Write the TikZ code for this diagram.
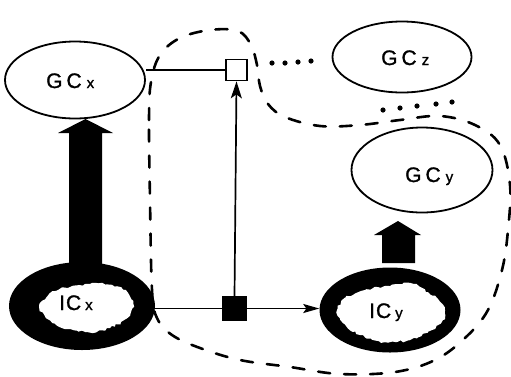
\documentclass[tikz,border=0pt]{standalone}
\usepackage{fontspec}
\newfontfamily\lab[FakeBold=1.2]{Liberation Sans}
\usetikzlibrary{shapes.geometric,arrows.meta,decorations.pathmorphing}
\tikzset{
  gc/.style={ellipse, draw, line width=1.8pt, inner sep=0pt},
  ic/.style={ellipse, fill=black, inner sep=0pt},
  lbl/.style={anchor=base west, inner sep=0pt, font=\lab\fontsize{21}{21}\selectfont},
  conn/.style={line width=1.7pt},
  box/.style={draw, line width=1.7pt, minimum width=21pt, minimum height=21pt, inner sep=0pt},
  dotc/.style={circle, fill=black, minimum size=5.2pt, inner sep=0pt},
  blob/.style={fill=white, decorate, decoration={random steps, segment length=3pt, amplitude=1.3pt}},
  bound/.style={dashed, dash pattern=on 12pt off 14pt, line width=2.6pt, line cap=round},
  fat/.style={fill=black},
  tip/.style={-{Stealth[length=17pt,width=11pt,inset=4pt]}},
}
\newcommand{\sub}[1]{{\fontsize{15}{15}\selectfont #1}}
\begin{document}
\begin{tikzpicture}[x=1pt,y=-1pt]
\useasboundingbox (0,0) rectangle (511,376);
\pgfmathsetseed{7}
% dashed boundary
\draw[bound] plot[smooth cycle, tension=0.6] coordinates {
 (150,200) (149,120) (151,82) (160,55) (180,38) (210,30) (238,31) (251,45) (257,65)
 (260,86) (268,104) (285,117) (320,126) (360,125) (400,120) (440,116) (475,125)
 (500,145) (510,185) (508,230) (502,270) (488,310) (465,338) (435,360) (395,372)
 (340,374) (290,367) (240,360) (200,348) (172,335) (157,318) (152,290)};
% ellipses
\node[gc, minimum width=140pt, minimum height=77pt] (GCx) at (75,80) {};
\node[gc, minimum width=139pt, minimum height=71pt] (GCz) at (402,57) {};
\node[gc, minimum width=141pt, minimum height=85pt] (GCy) at (422,170) {};
\node[ic, minimum width=146pt, minimum height=88pt] (ICx) at (82,306) {};
\node[ic, minimum width=141pt, minimum height=85pt] (ICy) at (390,310) {};
% inner blobs
\fill[blob] plot[smooth cycle] coordinates {(40,307) (50,293) (70,287) (90,284) (112,285) (128,293) (133,304) (127,318) (110,328) (88,332) (62,328) (46,318)};
\fill[blob] plot[smooth cycle] coordinates {(337,312) (345,298) (365,290) (390,286) (410,283) (428,292) (440,302) (445,315) (432,330) (410,340) (385,342) (360,335) (343,323)};
% labels
\node[lbl] (tGCx) at (46,88) {G\hspace{4pt}C\hspace{5pt}\sub{x}};
\node[lbl] (tGCz) at (381,65) {G\hspace{4pt}C\hspace{5pt}\sub{z}};
\node[lbl] (tGCy) at (405,182) {G\hspace{4pt}C\hspace{5pt}\sub{y}};
\node[lbl] (tICx) at (59,310) {I\hspace{1pt}C\hspace{4pt}\sub{x}};
\node[lbl] (tICy) at (369,318) {I\hspace{1pt}C\hspace{4pt}\sub{y}};
% thick arrows
\fill[fat] (69,268) -- (69,133) -- (58,133) -- (85.5,119) -- (113,133) -- (102,133) -- (102,268) -- cycle;
\fill[fat] (382,263) -- (382,235) -- (374,235) -- (398,221) -- (421,235) -- (415,235) -- (415,263) -- cycle;
% squares
\node[box, fill=white] (open) at (236.5,70) {};
\node[box, fill=black, minimum width=23pt, minimum height=23pt] (filled) at (234.5,308.5) {};
% connectors
\draw[conn] (open.west) -- (open.west -| GCx.east);
\draw[conn] (filled.west) -- (filled.west -| ICx.east);
\draw[conn, tip] (filled.north) -- (open.south);
\draw[conn, -{Stealth[length=16pt,width=9pt,inset=3pt]}] (filled.east) -- (filled.east -| ICy.west);
% dots
\foreach \i/\p in {a/{(272,63)}, b/{(285,63)}, c/{(298,62)}, d/{(311,61)},
                   e/{(383,110)}, f/{(400,108)}, g/{(417,106)}, h/{(436,104)}, k/{(452,102)}}
  \node[dotc] (dot\i) at \p {};
\end{tikzpicture}
\end{document}
